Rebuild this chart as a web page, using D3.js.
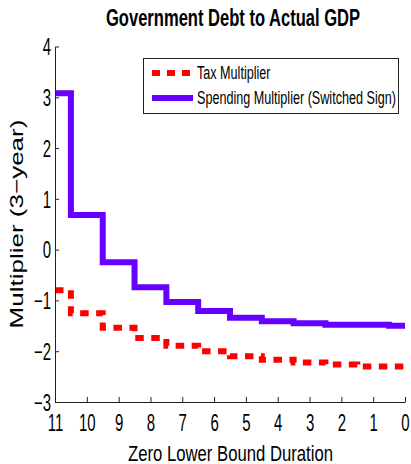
<!DOCTYPE html>
<html>
<head>
<meta charset="utf-8">
<script src="https://cdn.jsdelivr.net/npm/d3@7"></script>
<style>
  body { margin: 0; background: #fff; }
  text { font-family: "Liberation Sans", Arial, sans-serif; fill: #000; }
</style>
</head>
<body>
<div id="chart"></div>
<script>
// zero lower bound duration (quarters)
var durations = [11, 10, 9, 8, 7, 6, 5, 4, 3, 2, 1, 0];
var taxMult = [-0.80, -1.25, -1.54, -1.74, -1.89, -2.00, -2.10, -2.17, -2.22, -2.26, -2.30, -2.30];
var spendMult = [3.08, 0.68, -0.25, -0.74, -1.03, -1.21, -1.34, -1.41, -1.45, -1.48, -1.48, -1.50];
var xTicks = [11, 10, 9, 8, 7, 6, 5, 4, 3, 2, 1, 0];
var yTicks = [-3, -2, -1, 0, 1, 2, 3, 4];
var seriesNames = ['Tax Multiplier', 'Spending Multiplier (Switched Sign)'];

var width = 411, height = 464;
var svg = d3.select('#chart').append('svg').attr('width', width).attr('height', height);

var x = d3.scaleLinear().domain([11, 0]).range([55, 405]);
var y = d3.scaleLinear().domain([-3, 4]).range([402, 46.5]);

// squeeze text horizontally, the original figure is narrow
function squeeze(sel, f) {
  sel.each(function() {
    var len = this.getComputedTextLength();
    d3.select(this).attr('textLength', len * f).attr('lengthAdjust', 'spacingAndGlyphs');
  });
}

var line = d3.line().curve(d3.curveStep)
  .x(function(d) { return x(d[0]); })
  .y(function(d) { return y(d[1]); });

var taxData = durations.map(function(d, i) { return [d, taxMult[i]]; });
var spendData = durations.map(function(d, i) { return [d, spendMult[i]]; });

svg.append('path').attr('d', line(spendData))
  .attr('fill', 'none').attr('stroke', '#6600ff').attr('stroke-width', 6);
svg.append('path').attr('d', line(taxData))
  .attr('fill', 'none').attr('stroke', '#ff0000').attr('stroke-width', 6)
  .attr('stroke-dasharray', '8.5,7.5');

// axes
var xAxis = svg.append('g').attr('transform', 'translate(0,' + y(-3) + ')')
  .call(d3.axisBottom(x).tickValues(xTicks).tickSizeInner(-5).tickSizeOuter(0).tickPadding(13));
var yAxis = svg.append('g').attr('transform', 'translate(' + x(11) + ',0)')
  .call(d3.axisLeft(y).tickValues(yTicks).tickSizeInner(-4).tickSizeOuter(0).tickPadding(4)
    .tickFormat(function(d) { return d < 0 ? '\u2212' + Math.abs(d) : d; }));

[xAxis, yAxis].forEach(function(a) {
  a.select('.domain').attr('stroke', '#222');
  a.selectAll('.tick line').attr('stroke', '#222');
  a.selectAll('.tick text').style('font-size', '23px').attr('fill', '#000');
  squeeze(a.selectAll('.tick text'), 0.65);
});
yAxis.selectAll('.tick text').attr('dy', '0.36em');
xAxis.selectAll('.tick text').attr('dy', '0.71em');

// title
var title = svg.append('text').attr('x', 233).attr('y', 26)
  .attr('text-anchor', 'middle').style('font-size', '24px').style('font-weight', 'bold')
  .text('Government Debt to Actual GDP');
title.attr('textLength', 254).attr('lengthAdjust', 'spacingAndGlyphs');

// axis labels
svg.append('text').attr('x', 230.5).attr('y', 461)
  .attr('text-anchor', 'middle').style('font-size', '22px')
  .attr('textLength', 205).attr('lengthAdjust', 'spacingAndGlyphs')
  .text('Zero Lower Bound Duration');

svg.append('g').attr('transform', 'translate(23,224) rotate(-90) scale(1,0.7)')
  .append('text').attr('text-anchor', 'middle').style('font-size', '26px')
  .text('Multiplier (3\u2212year)');

// legend
var legend = svg.append('g');
legend.append('rect').attr('x', 143.5).attr('y', 58.5).attr('width', 255).attr('height', 55)
  .attr('fill', '#fff').attr('stroke', '#222').attr('stroke-width', 1);

var legY = [73, 98];
var legStyles = [
  { color: '#ff0000', dash: '8,7' },
  { color: '#6600ff', dash: null }
];
seriesNames.forEach(function(name, i) {
  legend.append('line').attr('x1', 152).attr('x2', 193).attr('y1', legY[i]).attr('y2', legY[i])
    .attr('stroke', legStyles[i].color).attr('stroke-width', 6)
    .attr('stroke-dasharray', legStyles[i].dash);
  var t = legend.append('text').attr('x', 197).attr('y', legY[i] + 6)
    .style('font-size', '18px').text(name);
  squeeze(t, 0.7);
});
</script>
</body>
</html>
